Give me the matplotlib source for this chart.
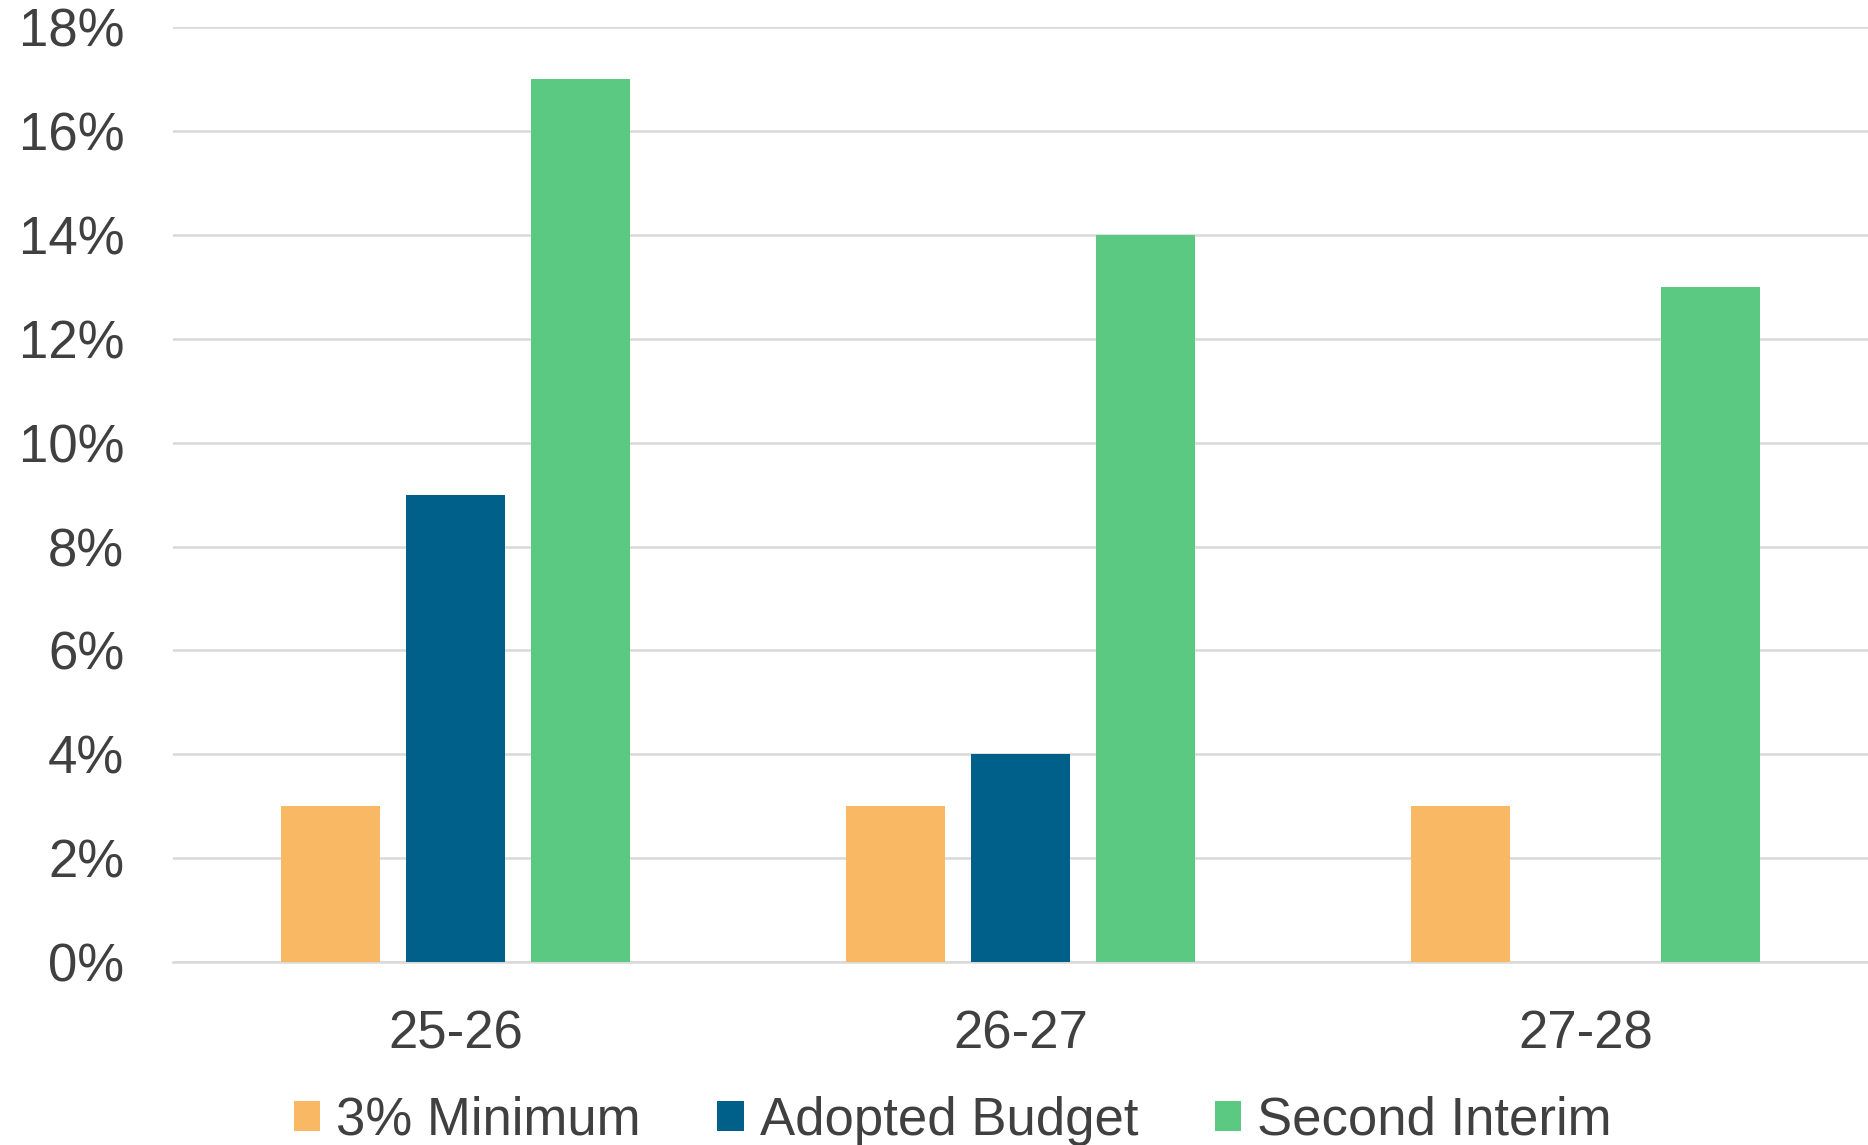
import matplotlib.pyplot as plt
import numpy as np
from matplotlib.ticker import FuncFormatter

# data
years = ["25-26", "26-27", "27-28"]
minimum = [3, 3, 3]
adopted = [9, 4, 0]
second_interim = [17, 14, 13]

series_names = ["3% Minimum", "Adopted Budget", "Second Interim"]
colors = ["#F8B864", "#00608A", "#5CC982"]

plt.rcParams['font.family'] = ['Liberation Sans', 'DejaVu Sans']
text_color = "#404040"

fig = plt.figure(figsize=(18.68, 11.45), dpi=100)
ax = fig.add_axes([0.0925, 0.160, 0.9075, 0.816])

x = np.arange(len(years))
width = 0.175
step = 0.221
for i, (vals, name, c) in enumerate(zip([minimum, adopted, second_interim], series_names, colors)):
    ax.bar(x + (i - 1) * step, vals, width, color=c, label=name, zorder=3)

ax.set_xlim(-0.5, 2.5)
ax.set_ylim(0, 18)
ax.set_yticks(range(0, 19, 2))
ax.yaxis.set_major_formatter(FuncFormatter(lambda v, p: f"{int(v)}%"))
ax.set_xticks(x)
ax.set_xticklabels(years)

ax.grid(axis='y', color="#D9D9D9", linewidth=1.8, zorder=0)
for s in ["top", "right", "left"]:
    ax.spines[s].set_visible(False)
ax.spines["bottom"].set_color("#D9D9D9")
ax.spines["bottom"].set_linewidth(1.8)
ax.tick_params(axis='both', length=0, labelsize=38, colors=text_color)
ax.tick_params(axis='y', pad=35)
ax.tick_params(axis='x', pad=34)

leg = fig.legend(loc='lower center', ncol=3, frameon=False, fontsize=38,
                 bbox_to_anchor=(0.51, -0.042), handlelength=0.5, handleheight=0.5,
                 handletextpad=0.3, columnspacing=1.45)
for t in leg.get_texts():
    t.set_color(text_color)

fig.savefig("out.png", dpi=100)
